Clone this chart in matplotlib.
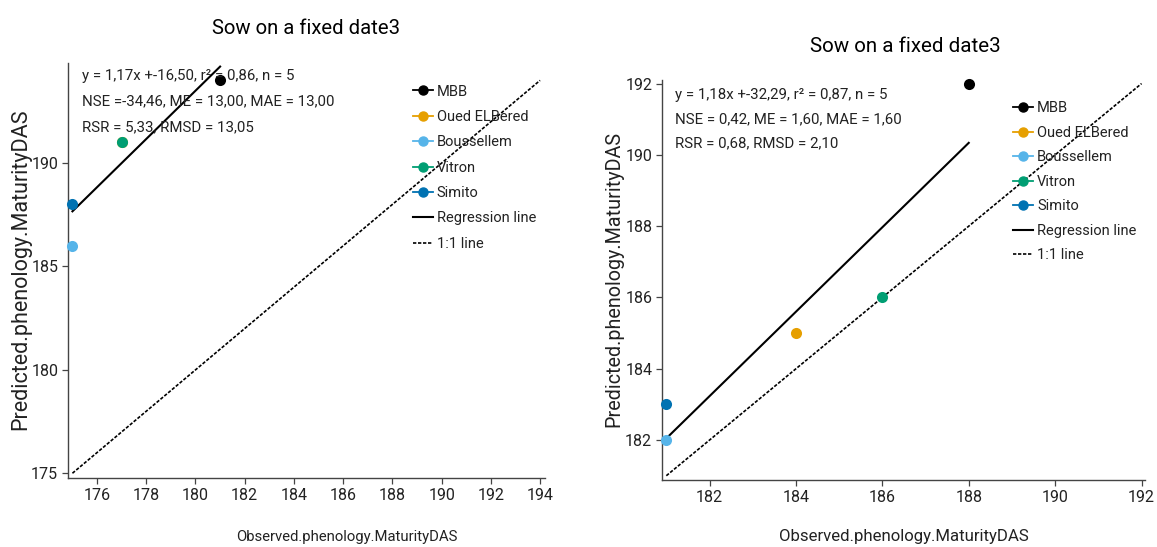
import numpy as np
import matplotlib
matplotlib.use("Agg")
import matplotlib.pyplot as plt
from matplotlib.lines import Line2D

plt.rcParams["font.family"] = ["Roboto", "DejaVu Sans"]

sites = ["MBB", "Oued ELBered", "Boussellem", "Vitron", "Simito"]
site_colors = ["#000000", "#E69F00", "#56B4E9", "#009E73", "#0072B2"]

# observed vs predicted maturity (days after sowing), two runs
obs_a = [181, 177, 175, 177, 175]
pred_a = [194, 191, 186, 191, 188]
obs_b = [188, 184, 181, 186, 181]
pred_b = [192, 185, 182, 186, 183]

title = "Sow on a fixed date3"
xlabel = "Observed.phenology.MaturityDAS"
ylabel = "Predicted.phenology.MaturityDAS"

xticks_a = [176, 178, 180, 182, 184, 186, 188, 190, 192, 194]
yticks_a = [175, 180, 185, 190]
xticks_b = [182, 184, 186, 188, 190, 192]
yticks_b = [182, 184, 186, 188, 190, 192]

DASH = (0, (2, 1))


def fit_stats(obs, pred):
    obs = np.asarray(obs, float)
    pred = np.asarray(pred, float)
    slope, intercept = np.polyfit(obs, pred, 1)
    r2 = np.corrcoef(obs, pred)[0, 1] ** 2
    resid = pred - obs
    rmsd = np.sqrt(np.mean(resid ** 2))
    return {
        "slope": slope,
        "intercept": intercept,
        "r2": r2,
        "n": len(obs),
        "nse": 1 - np.sum(resid ** 2) / np.sum((obs - obs.mean()) ** 2),
        "me": resid.mean(),
        "mae": np.abs(resid).mean(),
        "rmsd": rmsd,
        "rsr": rmsd / obs.std(ddof=1),
    }


def stats_lines(st):
    lines = [
        f"y = {st['slope']:.2f}x +{st['intercept']:.2f}, r\u00b2 = {st['r2']:.2f}, n = {st['n']}",
        f"NSE ={st['nse']: .2f}, ME = {st['me']:.2f}, MAE = {st['mae']:.2f}",
        f"RSR = {st['rsr']:.2f}, RMSD = {st['rmsd']:.2f}",
    ]
    # decimal comma
    return [l.replace(".", ",") for l in lines]


def draw_panel(ax, obs, pred, xlim, ylim, xticks, yticks, text_x, text_y, text_step,
               leg_pos, leg_spacing):
    obs = np.asarray(obs, float)
    pred = np.asarray(pred, float)
    st = fit_stats(obs, pred)

    lo = min(obs.min(), pred.min())
    hi = max(obs.max(), pred.max())
    ax.plot([lo, hi], [lo, hi], color="black", lw=1.2, ls=DASH, zorder=2)

    xr = np.array([obs.min(), obs.max()])
    ax.plot(xr, st["slope"] * xr + st["intercept"], color="black", lw=1.5, zorder=2)

    for x, y, c in zip(obs, pred, site_colors):
        ax.scatter(x, y, s=64, color=c, zorder=3, clip_on=False, linewidths=0)

    ax.set_xlim(*xlim)
    ax.set_ylim(*ylim)
    ax.set_xticks(xticks)
    ax.set_yticks(yticks)
    for side in ["top", "right"]:
        ax.spines[side].set_visible(False)
    for side in ["left", "bottom"]:
        ax.spines[side].set_color("#444444")
        ax.spines[side].set_linewidth(1.0)
    ax.tick_params(length=4, width=0.9, color="#444444", labelsize=11.5,
                   labelcolor="#222222", pad=3)

    for i, line in enumerate(stats_lines(st)):
        ax.text(text_x, text_y - i * text_step, line, transform=ax.transAxes,
                ha="left", va="center", fontsize=10.8, color="#222222")

    handles = [
        Line2D([0], [0], color=c, marker="o", markersize=6.5, lw=1.3)
        for c in site_colors
    ]
    handles.append(Line2D([0], [0], color="black", lw=1.5))
    handles.append(Line2D([0], [0], color="black", lw=1.2, ls=DASH))
    ax.legend(handles, sites + ["Regression line", "1:1 line"],
              loc="upper left", bbox_to_anchor=leg_pos, frameon=False,
              borderpad=0, borderaxespad=0, handlelength=1.37, handletextpad=0.27,
              labelspacing=leg_spacing, fontsize=10.5, labelcolor="#222222")
    return st


fig = plt.figure(figsize=(11.57, 5.47), dpi=100)
ax1 = fig.add_axes([68 / 1157, 1 - 478 / 547, 477 / 1157, 415 / 547])
ax2 = fig.add_axes([662 / 1157, 1 - 480 / 547, 483 / 1157, 400 / 547])

draw_panel(ax1, obs_a, pred_a, (174.82, 194.2), (174.77, 194.84),
           xticks_a, yticks_a, 0.029, 0.969, 0.0614, (0.723, 0.948), 0.78)
draw_panel(ax2, obs_b, pred_b, (180.9, 192.08), (180.88, 192.1),
           xticks_b, yticks_b, 0.027, 0.963, 0.06, (0.727, 0.947), 0.72)

# panel titles and axis labels
fig.text(306 / 1157, 1 - 28 / 547, title, ha="center", va="center", fontsize=14.6)
fig.text(905 / 1157, 1 - 47 / 547, title, ha="center", va="center", fontsize=14.8)
fig.text(347 / 1157, 1 - 537 / 547, xlabel, ha="center", va="center", fontsize=10.7,
         color="#222222")
fig.text(904 / 1157, 1 - 537 / 547, xlabel, ha="center", va="center", fontsize=12.1,
         color="#222222")
fig.text(21 / 1157, 1 - 269 / 547, ylabel, ha="center", va="center", rotation=90,
         fontsize=15.5, color="#222222")
fig.text(614 / 1157, 1 - 279 / 547, ylabel, ha="center", va="center", rotation=90,
         fontsize=14.2, color="#222222")

fig.savefig("out.png", dpi=100)
